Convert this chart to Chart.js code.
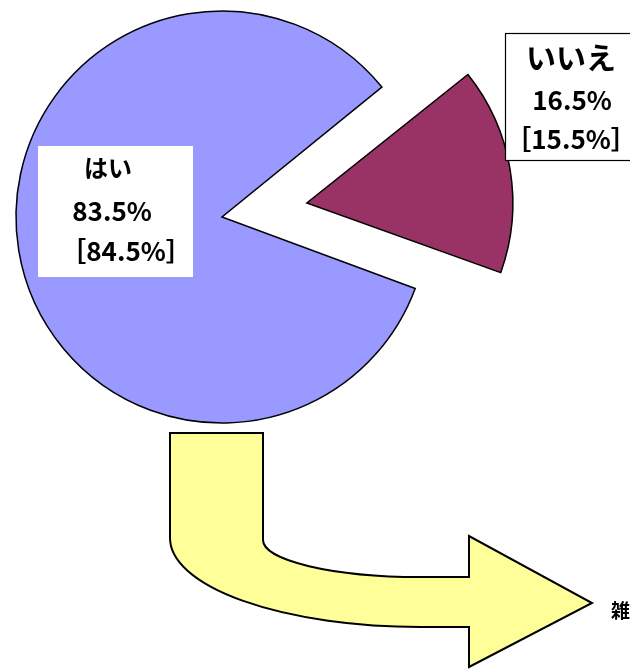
<!DOCTYPE html>
<html>
<head>
<meta charset="utf-8">
<script src="https://cdn.jsdelivr.net/npm/chart.js@4/dist/chart.umd.min.js"></script>
<style>
html,body{margin:0;padding:0;background:#fff;}
#wrap{width:630px;height:669px;position:relative;}
</style>
</head>
<body>
<div id="wrap"><canvas id="c" width="630" height="669"></canvas></div>
<script>
const categories = ['はい', 'いいえ'];
const values = [83.5, 16.5];
const previousValues = [84.5, 15.5];
const sliceColors = ['#9999FF', '#993366'];
const sliceOffsets = [0, 344];
const arrowLabel = '雑';

const FONT = '"Noto Sans CJK JP", "Noto Sans", sans-serif';

function fmt(v){ return v.toFixed(1) + '%'; }

// keep exploded slice at the same radius as the rest of the pie
const radiusFix = {
  id: 'radiusFix',
  afterUpdate(chart){
    const meta = chart.getDatasetMeta(0);
    const ctrl = meta.controller;
    meta.data.forEach((arc, i) => {
      const off = sliceOffsets[i] || 0;
      if (off > 0) {
        const circ = arc.endAngle - arc.startAngle;
        const fix = 1 - Math.sin(Math.min(Math.PI, circ));
        arc.outerRadius = ctrl.outerRadius - (off / 4) * fix;
      }
    });
  }
};

const arrowPlugin = {
  id: 'arrow',
  beforeDatasetsDraw(chart){
    const ctx = chart.ctx;
    ctx.save();
    ctx.beginPath();
    ctx.moveTo(170, 433);
    ctx.lineTo(263, 433);
    ctx.lineTo(263, 540);
    ctx.ellipse(420, 540, 157, 37, 0, Math.PI, Math.PI / 2, true);
    ctx.lineTo(469, 577);
    ctx.lineTo(469, 536);
    ctx.lineTo(592, 603);
    ctx.lineTo(469, 667);
    ctx.lineTo(469, 627);
    ctx.lineTo(420, 627);
    ctx.ellipse(420, 538, 250, 89, 0, Math.PI / 2, Math.PI, false);
    ctx.closePath();
    ctx.fillStyle = '#FFFF99';
    ctx.fill();
    ctx.lineWidth = 2;
    ctx.lineJoin = 'miter';
    ctx.strokeStyle = '#000';
    ctx.stroke();
    ctx.fillStyle = '#000';
    ctx.font = 'bold 19px ' + FONT;
    ctx.textAlign = 'left';
    ctx.textBaseline = 'middle';
    ctx.fillText(arrowLabel, 611, 611);
    ctx.restore();
  }
};

const labelPlugin = {
  id: 'labels',
  afterDatasetsDraw(chart){
    const ctx = chart.ctx;
    ctx.save();
    // はい box
    ctx.fillStyle = '#fff';
    ctx.fillRect(38, 146, 155, 131);
    // いいえ box
    ctx.fillRect(505, 33, 140, 127);
    ctx.lineWidth = 1.2;
    ctx.strokeStyle = '#000';
    ctx.strokeRect(505.5, 33.5, 140, 127);

    ctx.fillStyle = '#000';
    ctx.textAlign = 'center';
    ctx.textBaseline = 'middle';

    ctx.font = 'bold 24px ' + FONT;
    ctx.fillText(categories[0], 108, 168);
    ctx.font = 'bold 26px ' + FONT;
    ctx.fillText(fmt(values[0]), 112, 211);
    ctx.fillText('［' + fmt(previousValues[0]) + '］', 126, 251);

    ctx.font = 'bold 30px ' + FONT;
    ctx.fillText(categories[1], 571, 58);
    ctx.font = 'bold 26px ' + FONT;
    ctx.fillText(fmt(values[1]), 572, 100);
    ctx.fillText('［' + fmt(previousValues[1]) + '］', 571, 139);
    ctx.restore();
  }
};

new Chart(document.getElementById('c'), {
  type: 'pie',
  data: {
    labels: categories,
    datasets: [{
      data: values,
      backgroundColor: sliceColors,
      borderColor: '#000',
      borderWidth: 1.5,
      borderJoinStyle: 'miter',
      offset: sliceOffsets,
      hoverOffset: 0
    }]
  },
  options: {
    responsive: false,
    animation: false,
    events: [],
    rotation: 110.3,
    radius: 206,
    layout: { padding: { left: 0, right: 186, top: 0, bottom: 235 } },
    plugins: { legend: { display: false }, tooltip: { enabled: false } }
  },
  plugins: [radiusFix, arrowPlugin, labelPlugin]
});
</script>
</body>
</html>
